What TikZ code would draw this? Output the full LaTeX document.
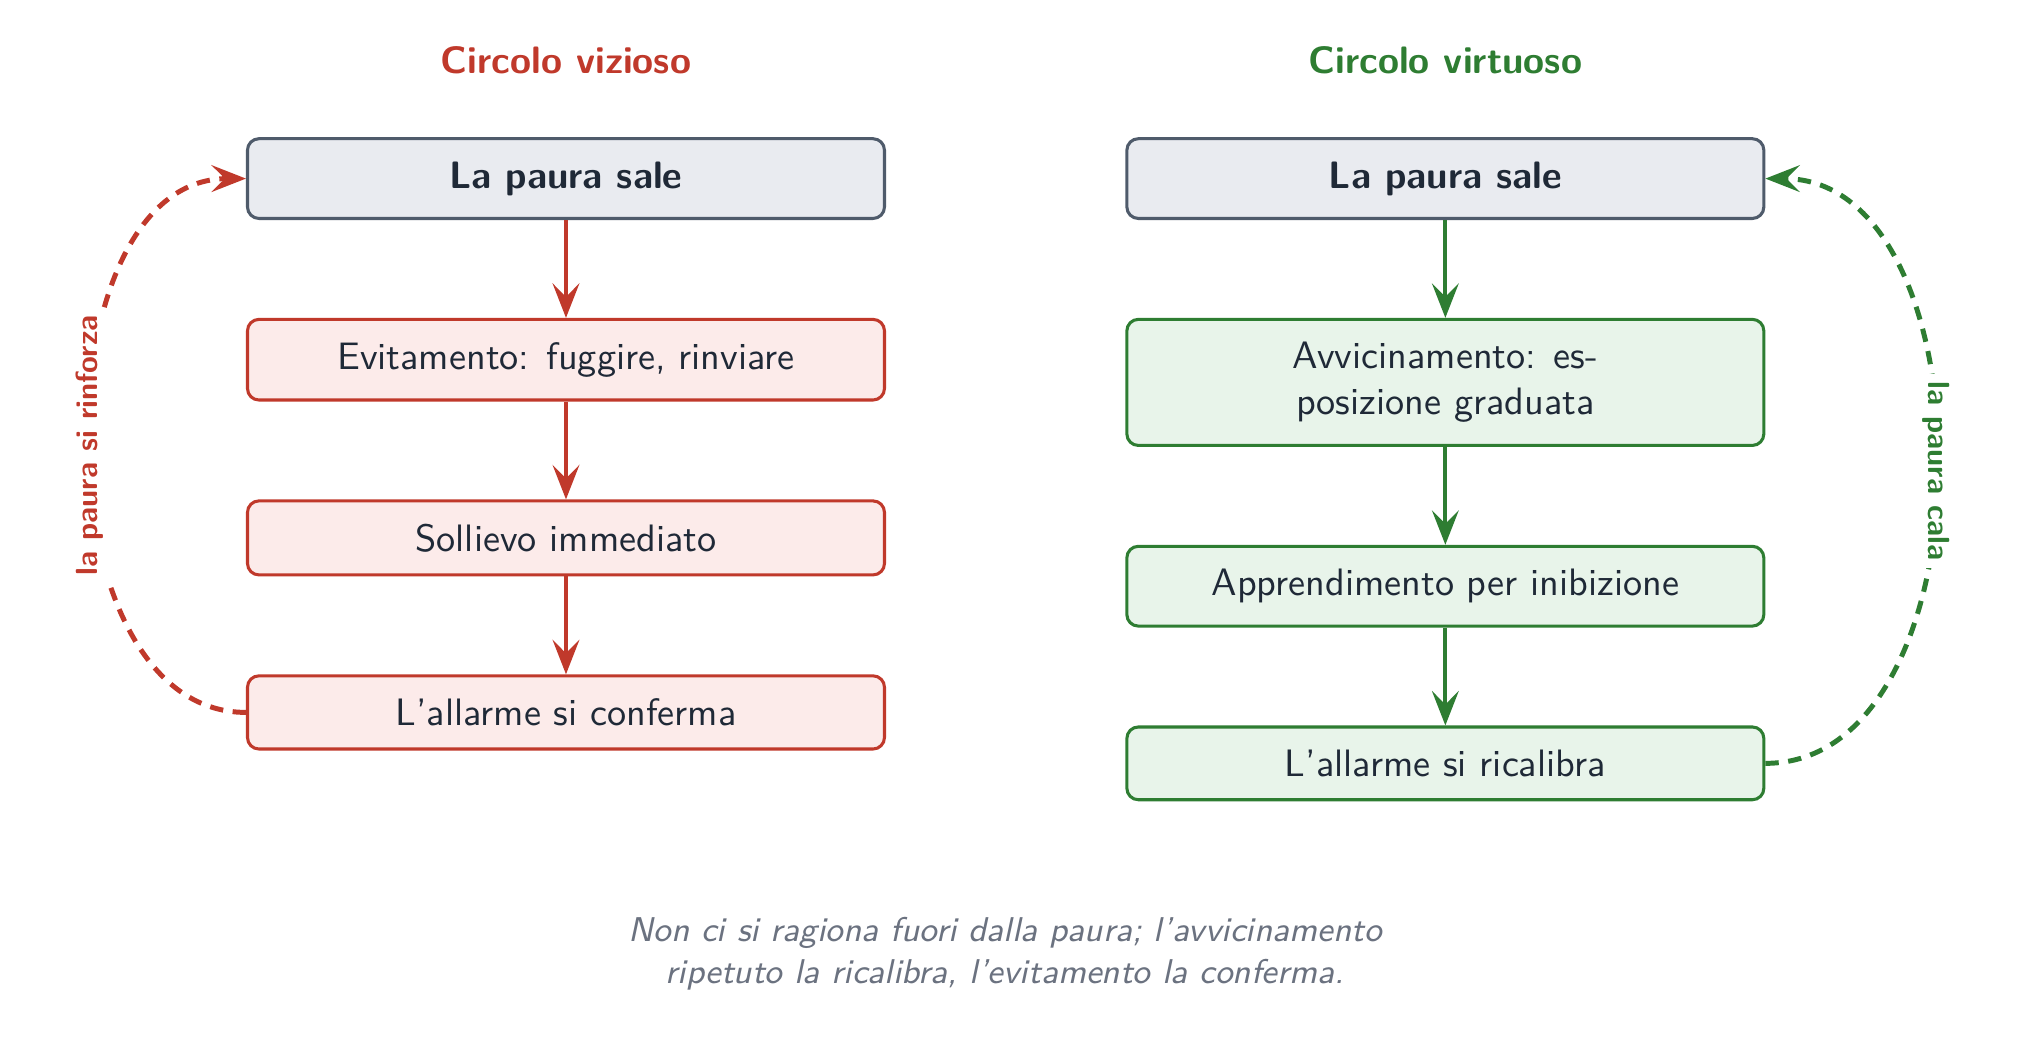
\documentclass[tikz,border=0pt]{standalone}
\usepackage{xcolor}
\usepackage{tikz}
\usetikzlibrary{positioning,arrows.meta}
\definecolor{figRed}{HTML}{C0392B}
\definecolor{figRedFill}{HTML}{FCEBEA}
\definecolor{figGreen}{HTML}{2E7D32}
\definecolor{figGreenFill}{HTML}{E8F4EA}
\definecolor{figSlate}{HTML}{4F5B6B}
\definecolor{figSlateFill}{HTML}{E9EBF0}
\definecolor{figInk}{HTML}{1F2937}
\definecolor{figGray}{HTML}{6B7280}

\begin{document}
\begin{tikzpicture}[
  >={Stealth[length=9pt,width=7pt,inset=3.5pt]},
  every node/.style={font=\sffamily, text=figInk},
  stepbox/.style={rectangle, rounded corners=3pt, draw=#1, fill=#1Fill,
    line width=0.8pt, minimum width=58.6mm, inner ysep=6pt, align=center},
  topbox/.style={stepbox=figSlate, font=\sffamily\bfseries},
  coltitle/.style={font=\sffamily\bfseries, text=#1},
  flow/.style={->, draw=#1, line width=1pt},
  loopback/.style={->, draw=#1, line width=1.3pt, dash pattern=on 3.5pt off 2.5pt},
  looplabel/.style={font=\sffamily\bfseries\footnotesize, text=#1,
    fill=white, inner sep=2pt},
  node distance=9mm,
]
\useasboundingbox (-5.207, 1.643) rectangle (13.478, -7.925);

% ======= Vicious circle =======
\node[topbox] (ltop) at (0, 0) {La paura sale};
\node[coltitle=figRed, above=4.6mm of ltop] (ltitle) {Circolo vizioso};

\node[stepbox=figRed, below=of ltop] (lavoid) {Evitamento: fuggire, rinviare};
\node[stepbox=figRed, below=of lavoid] (lrelief) {Sollievo immediato};
\node[stepbox=figRed, below=of lrelief] (lconfirm) {L'allarme si conferma};

\draw[flow=figRed] (ltop) -- (lavoid);
\draw[flow=figRed] (lavoid) -- (lrelief);
\draw[flow=figRed] (lrelief) -- (lconfirm);

% loop back
\draw[loopback=figRed] (lconfirm.west) to[out=180, in=180]
  node[looplabel=figRed, midway, rotate=90] {la paura si rinforza} (ltop.west);

% ======= Virtuous circle =======
\node[topbox] (rtop) at (8.09, 0) {La paura sale};
\node[coltitle=figGreen, above=4.6mm of rtop] (rtitle) {Circolo virtuoso};

\node[stepbox=figGreen, below=of rtop] (rapproach)
  {Avvicinamento: es-\\posizione graduata};
\node[stepbox=figGreen, below=of rapproach] (rlearn) {Apprendimento per inibizione};
\node[stepbox=figGreen, below=of rlearn] (rrecal) {L'allarme si ricalibra};

\draw[flow=figGreen] (rtop) -- (rapproach);
\draw[flow=figGreen] (rapproach) -- (rlearn);
\draw[flow=figGreen] (rlearn) -- (rrecal);

% loop back
\draw[loopback=figGreen] (rrecal.east) to[out=0, in=0]
  node[looplabel=figGreen, midway, rotate=-90] {la paura cala} (rtop.east);

% Caption
\node[font=\sffamily\itshape\small, text=figGray, align=center] (note) at (4.04, -7.13)
  {Non ci si ragiona fuori dalla paura; l'avvicinamento\\
   ripetuto la ricalibra, l'evitamento la conferma.};

\end{tikzpicture}
\end{document}
